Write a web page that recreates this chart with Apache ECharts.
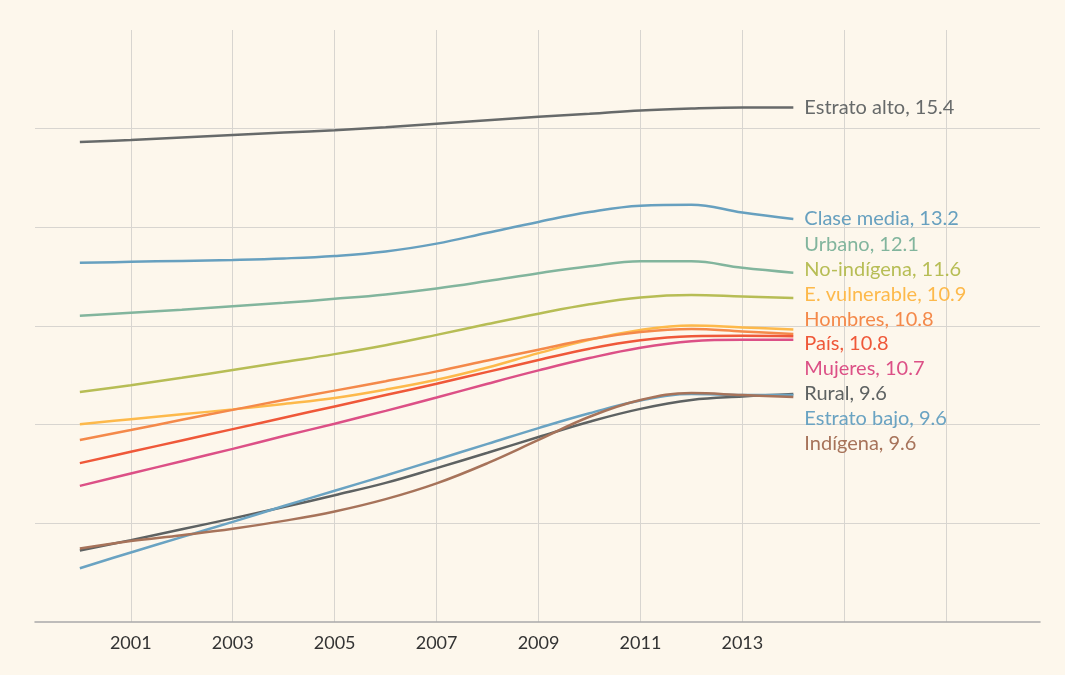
<!DOCTYPE html>
<html>
<head>
<meta charset="utf-8">
<script src="https://cdn.jsdelivr.net/npm/echarts@6/dist/echarts.min.js"></script>
<style>
  html, body { margin: 0; background: #fdf7ec; }
  #chart { width: 1065px; height: 675px; }
</style>
</head>
<body>
<div id="chart"></div>
<script>
// años de la serie y marcas del eje
const years = [2000, 2001, 2002, 2003, 2004, 2005, 2006, 2007, 2008, 2009, 2010, 2011, 2012, 2013, 2014]
const gridYears = [2001, 2003, 2005, 2007, 2009, 2011, 2013, 2015, 2017]
const labelYears = [2001, 2003, 2005, 2007, 2009, 2011, 2013]

// valores
const estratoAlto  = [14.73, 14.77, 14.82, 14.87, 14.92, 14.97, 15.03, 15.10, 15.17, 15.24, 15.30, 15.37, 15.41, 15.43, 15.43]
const claseMedia   = [12.28, 12.30, 12.32, 12.34, 12.37, 12.42, 12.51, 12.67, 12.89, 13.11, 13.31, 13.44, 13.46, 13.30, 13.17]
const urbano       = [11.21, 11.27, 11.33, 11.40, 11.47, 11.55, 11.64, 11.76, 11.91, 12.07, 12.21, 12.31, 12.31, 12.18, 12.08]
const noIndigena   = [9.66, 9.80, 9.95, 10.11, 10.27, 10.43, 10.61, 10.82, 11.04, 11.25, 11.44, 11.58, 11.63, 11.60, 11.57]
const eVulnerable  = [9.01, 9.11, 9.21, 9.31, 9.42, 9.54, 9.71, 9.91, 10.16, 10.45, 10.72, 10.92, 11.01, 10.97, 10.93]
const hombres      = [8.69, 8.89, 9.10, 9.30, 9.50, 9.69, 9.88, 10.08, 10.30, 10.52, 10.73, 10.88, 10.94, 10.89, 10.84]
const pais         = [8.22, 8.45, 8.68, 8.91, 9.14, 9.37, 9.60, 9.83, 10.07, 10.31, 10.54, 10.71, 10.79, 10.80, 10.79]
const mujeres      = [7.76, 8.01, 8.26, 8.51, 8.77, 9.02, 9.28, 9.55, 9.83, 10.10, 10.35, 10.56, 10.69, 10.72, 10.72]
const rural        = [6.45, 6.66, 6.88, 7.10, 7.33, 7.57, 7.82, 8.12, 8.43, 8.75, 9.06, 9.32, 9.50, 9.57, 9.62]
const estratoBajo  = [6.09, 6.41, 6.72, 7.03, 7.35, 7.66, 7.97, 8.29, 8.61, 8.93, 9.23, 9.49, 9.62, 9.60, 9.60]
const indigena     = [6.49, 6.64, 6.76, 6.89, 7.05, 7.24, 7.49, 7.81, 8.22, 8.69, 9.16, 9.50, 9.64, 9.60, 9.56]

const names = ['Estrato alto', 'Clase media', 'Urbano', 'No-indígena', 'E. vulnerable', 'Hombres', 'País', 'Mujeres', 'Rural', 'Estrato bajo', 'Indígena']
const values = [estratoAlto, claseMedia, urbano, noIndigena, eVulnerable, hombres, pais, mujeres, rural, estratoBajo, indigena]

const COLORS = ['#676a6a', '#67a0bf', '#82b59d', '#b7bd55', '#fdb94b', '#f4894a', '#ef5839', '#dc5086', '#5e6262', '#6aa3c2', '#a7735a']
const FONT = 'Lato, "Open Sans", sans-serif'
const LABEL_GAP = 24.8

const chart = echarts.init(document.getElementById('chart'))

function buildSeries(offsets) {
  return names.map((name, i) => ({
    name,
    type: 'line',
    data: years.map((y, k) => [y, values[i][k]]),
    smooth: 0.4,
    showSymbol: false,
    lineStyle: { width: 2.5, color: COLORS[i] },
    itemStyle: { color: COLORS[i] },
    endLabel: {
      show: true,
      distance: 11,
      offset: [0, offsets ? offsets[i] : 0],
      color: COLORS[i],
      fontFamily: FONT,
      fontSize: 20,
      formatter: p => `${p.seriesName}, ${p.value[1].toFixed(1)}`,
    },
  }))
}

chart.setOption({
  animation: false,
  backgroundColor: '#fdf7ec',
  grid: { left: 35, right: 25, top: 30, bottom: 53 },
  xAxis: {
    type: 'value',
    min: 1999.12,
    max: 2018.84,
    axisLine: { lineStyle: { color: '#a9a9a9', width: 1.5 } },
    axisTick: { show: false, customValues: gridYears },
    axisLabel: {
      customValues: labelYears,
      color: '#333',
      fontFamily: FONT,
      fontSize: 18,
      margin: 12,
      formatter: v => String(v),
    },
    splitLine: { show: true, lineStyle: { color: '#d8d5d0', width: 1 } },
  },
  yAxis: {
    type: 'value',
    min: 5,
    max: 17,
    interval: 2,
    axisLine: { show: false },
    axisTick: { show: false },
    axisLabel: { show: false },
    splitLine: { showMinLine: false, showMaxLine: false, lineStyle: { color: '#d8d5d0', width: 1 } },
  },
  series: buildSeries(null),
})

// separar las etiquetas finales para que no se tapen (agrupando alrededor de su media)
const lastIdx = years.length - 1
const natural = values.map((v, i) => ({ i, y: chart.convertToPixel({ gridIndex: 0 }, [years[lastIdx], v[lastIdx]])[1] }))
natural.sort((a, b) => a.y - b.y)
let groups = natural.map(it => ({ members: [it], top: it.y }))
let merged = true
while (merged) {
  merged = false
  for (let k = 0; k < groups.length - 1; k++) {
    const a = groups[k]
    const b = groups[k + 1]
    const aBottom = a.top + (a.members.length - 1) * LABEL_GAP
    if (b.top - aBottom < LABEL_GAP) {
      const members = a.members.concat(b.members)
      const mean = members.reduce((s, m) => s + m.y, 0) / members.length
      groups.splice(k, 2, { members, top: mean - (members.length - 1) * LABEL_GAP / 2 })
      merged = true
      break
    }
  }
}
const offsets = new Array(names.length).fill(0)
groups.forEach(g => g.members.forEach((m, j) => { offsets[m.i] = g.top + j * LABEL_GAP - m.y }))

chart.setOption({ series: buildSeries(offsets) })
</script>
</body>
</html>
